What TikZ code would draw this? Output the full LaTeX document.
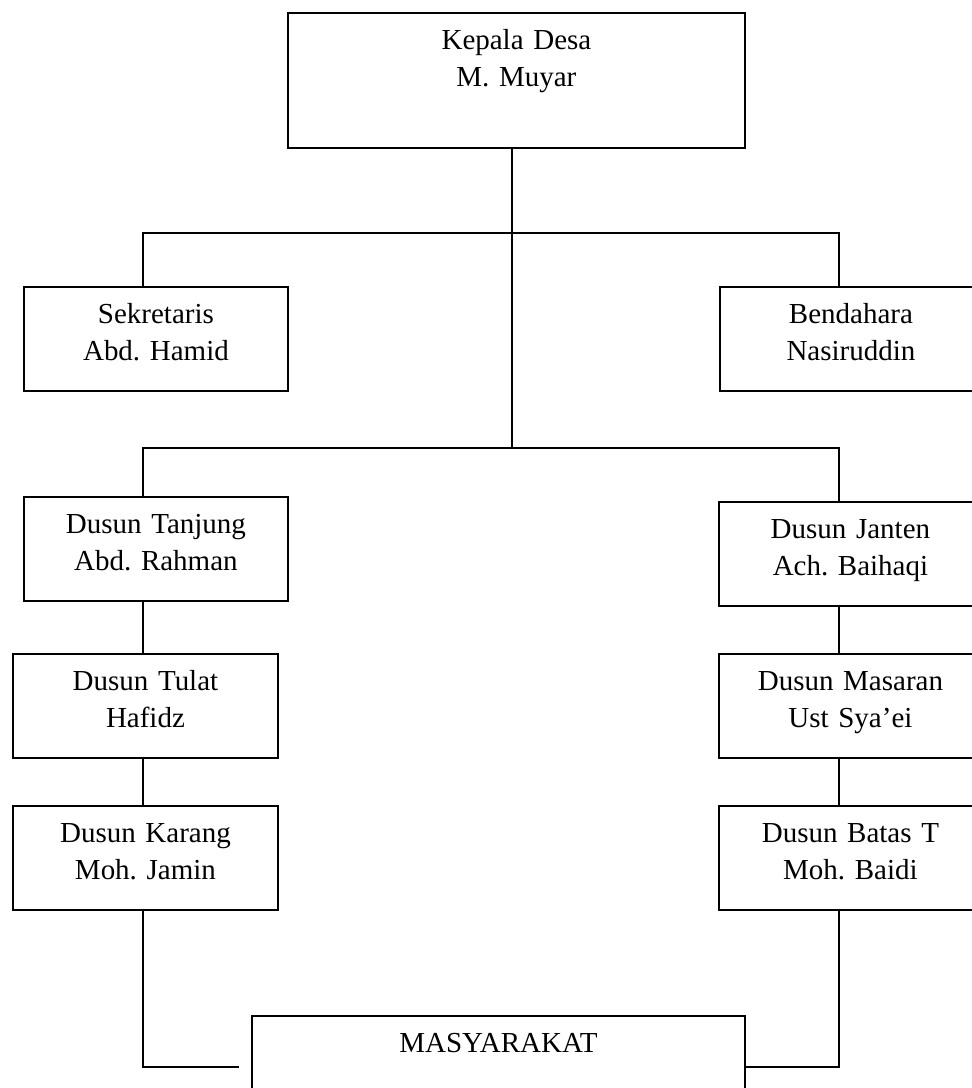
\documentclass[tikz,border=0pt]{standalone}
\usepackage{fontspec}
\setmainfont{Liberation Serif}
\frenchspacing
\tikzset{
    unit/.style={draw, line width=1.1pt, inner sep=0pt, anchor=north west, align=center,
        font=\fontsize{16.5}{21}\selectfont, text height=0.74cm},
    link/.style={line width=1.1pt}
}
\begin{document}
\begin{tikzpicture}[x=0.02cm,y=-0.02cm]
                \useasboundingbox (0,0) rectangle (971,1088);
                \node[unit, text width=9.14cm, text depth=1.96cm] (kades) at (287,12) {Kepala Desa\\M. Muyar};
                \node[unit, text width=5.28cm, text depth=1.34cm] (sekdes) at (23,286) {Sekretaris\\Abd. Hamid};
                \node[unit, text width=5.24cm, text depth=1.34cm] (bendahara) at (719,286) {Bendahara\\Nasiruddin};
                \node[unit, text width=5.28cm, text depth=1.34cm] (dsTanjung) at (23,496) {Dusun Tanjung\\Abd. Rahman};
                \node[unit, text width=5.30cm, text depth=1.34cm] (dsTulat) at (12,653) {Dusun Tulat\\Hafidz};
                \node[unit, text width=5.30cm, text depth=1.34cm] (dsKarang) at (12,805) {Dusun Karang\\Moh. Jamin};
                \node[unit, text width=5.26cm, text depth=1.34cm] (dsJanten) at (718,501) {Dusun Janten\\Ach. Baihaqi};
                \node[unit, text width=5.26cm, text depth=1.34cm] (dsMasaran) at (718,653) {Dusun Masaran\\Ust Sya’ei};
                \node[unit, text width=5.26cm, text depth=1.34cm] (dsBatas) at (718,805) {Dusun Batas T\\Moh. Baidi};
                \node[unit, text width=9.86cm, text depth=1.30cm] (masyarakat) at (251,1015) {MASYARAKAT};
                \coordinate (lft) at (143,0);
                \coordinate (rgt) at (839,0);
                \coordinate (split1) at (512,233);
                \coordinate (split2) at (512,448);
                \draw[link] (kades.south -| split1) -- (split2);
                \draw[link] (sekdes.north -| lft) |- (split1) -| (bendahara.north -| rgt);
                \draw[link] (dsTanjung.north -| lft) |- (split2) -| (dsJanten.north -| rgt);
                \draw[link] (dsTanjung.south -| lft) -- (dsTulat.north -| lft);
                \draw[link] (dsTulat.south -| lft) -- (dsKarang.north -| lft);
                \draw[link] (dsKarang.south -| lft) |- ([xshift=-0.24cm]masyarakat.west);
                \draw[link] (dsJanten.south -| rgt) -- (dsMasaran.north -| rgt);
                \draw[link] (dsMasaran.south -| rgt) -- (dsBatas.north -| rgt);
                \draw[link] (dsBatas.south -| rgt) |- (masyarakat.east);
            \end{tikzpicture}
\end{document}
